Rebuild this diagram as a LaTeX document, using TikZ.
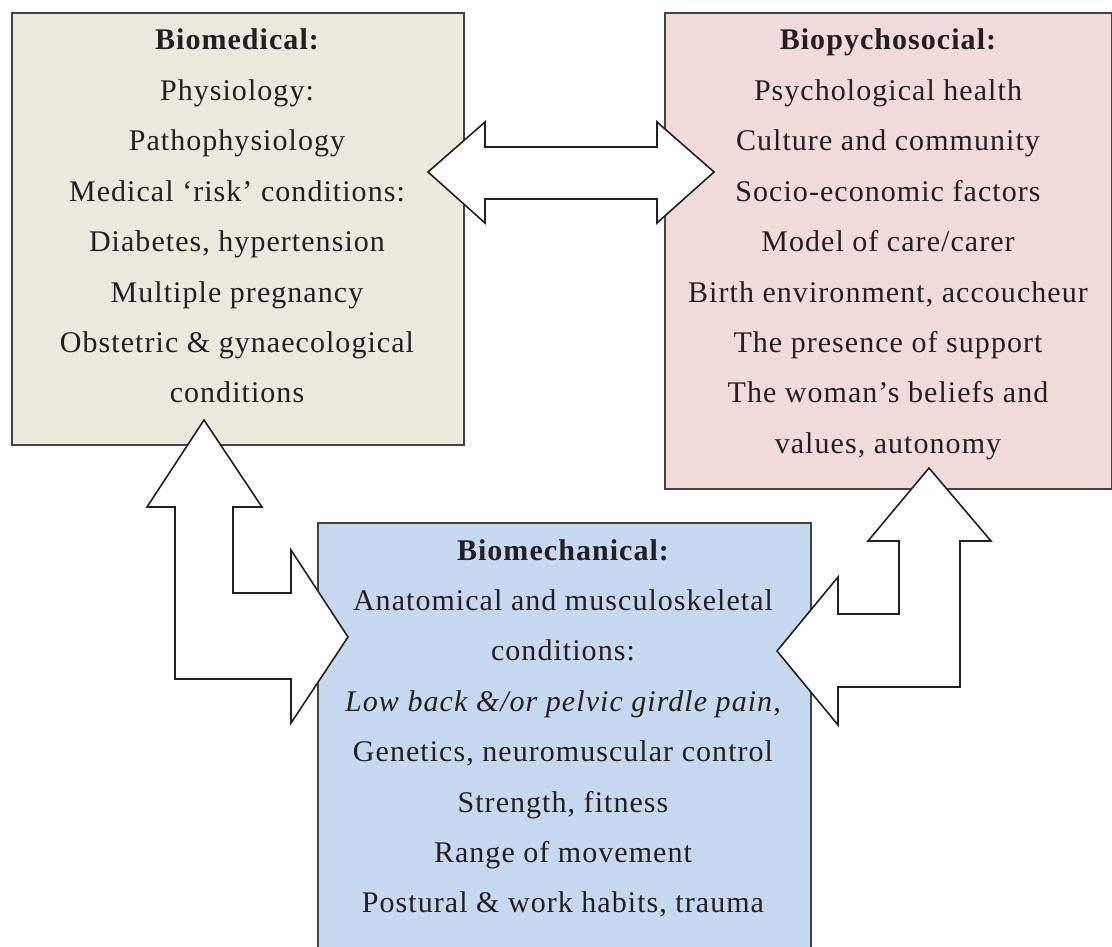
\documentclass[tikz,border=0pt]{standalone}
\usepackage{fontspec}
\setmainfont{Liberation Serif}[LetterSpace=3.5]
\begin{document}
\definecolor{ink}{HTML}{231F20}
\definecolor{medfill}{HTML}{ECE9DF}
\definecolor{psyfill}{HTML}{F2DCDB}
\definecolor{mechfill}{HTML}{C6D9F0}
\begin{tikzpicture}[x=1pt,y=-1pt,
  panel/.style={draw=ink!85, line width=1.6pt, inner sep=0pt, anchor=north west},
  fatarrow/.style={draw=ink, fill=white, line width=1.6pt, line join=miter},
  txt/.style={text=ink, anchor=base, inner sep=0pt, font=\fontsize{30}{36}\selectfont},
  head/.style={txt, font=\fontsize{30}{36}\selectfont\bfseries}]
\useasboundingbox (0,0) rectangle (1112,947);

% three panels
\node[panel, fill=medfill, minimum width=452pt, minimum height=432pt] (med) at (11,12) {};
\node[panel, fill=psyfill, minimum width=447pt, minimum height=476pt] (psy) at (664,12) {};
\node[panel, fill=mechfill, minimum width=493pt, minimum height=430pt] (mech) at (317,522) {};

% two-way arrow between the upper panels
\draw[fatarrow] (428,172) -- (485,122) -- (485,147) -- (657,147) -- (657,122)
  -- (714,172) -- (657,223) -- (657,199) -- (485,199) -- (485,223) -- cycle;

% bent arrow: Biomedical <-> Biomechanical
\draw[fatarrow] (204,420) -- (262,507) -- (233,507) -- (233,593) -- (291,593)
  -- (291,550) -- (348,637) -- (291,723) -- (291,679) -- (175,679)
  -- (175,507) -- (147,507) -- cycle;

% bent arrow: Biopychosocial <-> Biomechanical
\draw[fatarrow] (929,468) -- (991,541) -- (960,541) -- (960,687) -- (838,687)
  -- (838,725) -- (777,651) -- (838,577) -- (838,614) -- (899,614)
  -- (899,541) -- (868,541) -- cycle;

% panel texts
\node[head] (medT) at (237,50) {Biomedical:};
\foreach [count=\i] \t in {{Physiology:},{Pathophysiology},{Medical ‘risk’ conditions:},
  {Diabetes, hypertension},{Multiple pregnancy},{Obstetric \& gynaecological},{conditions}}
  \node[txt] (med\i) at (237,50+50.4*\i) {\t};

\node[head] (psyT) at (888,50) {Biopychosocial:};
\foreach [count=\i] \t in {{Psychological health},{Culture and community},{Socio-economic factors},
  {Model of care/carer},{Birth environment, accoucheur},{The presence of support},
  {The woman’s beliefs and},{values, autonomy}}
  \node[txt] (psy\i) at (888,50+50.4*\i) {\t};

\node[head] (mechT) at (563,560) {Biomechanical:};
\foreach [count=\i] \t in {{Anatomical and musculoskeletal},{conditions:},
  {\itshape Low back \&/or pelvic girdle pain,},{Genetics, neuromuscular control},
  {Strength, fitness},{Range of movement},{Postural \& work habits, trauma}}
  \node[txt] (mech\i) at (563,560+50.4*\i) {\t};
\end{tikzpicture}
\end{document}
